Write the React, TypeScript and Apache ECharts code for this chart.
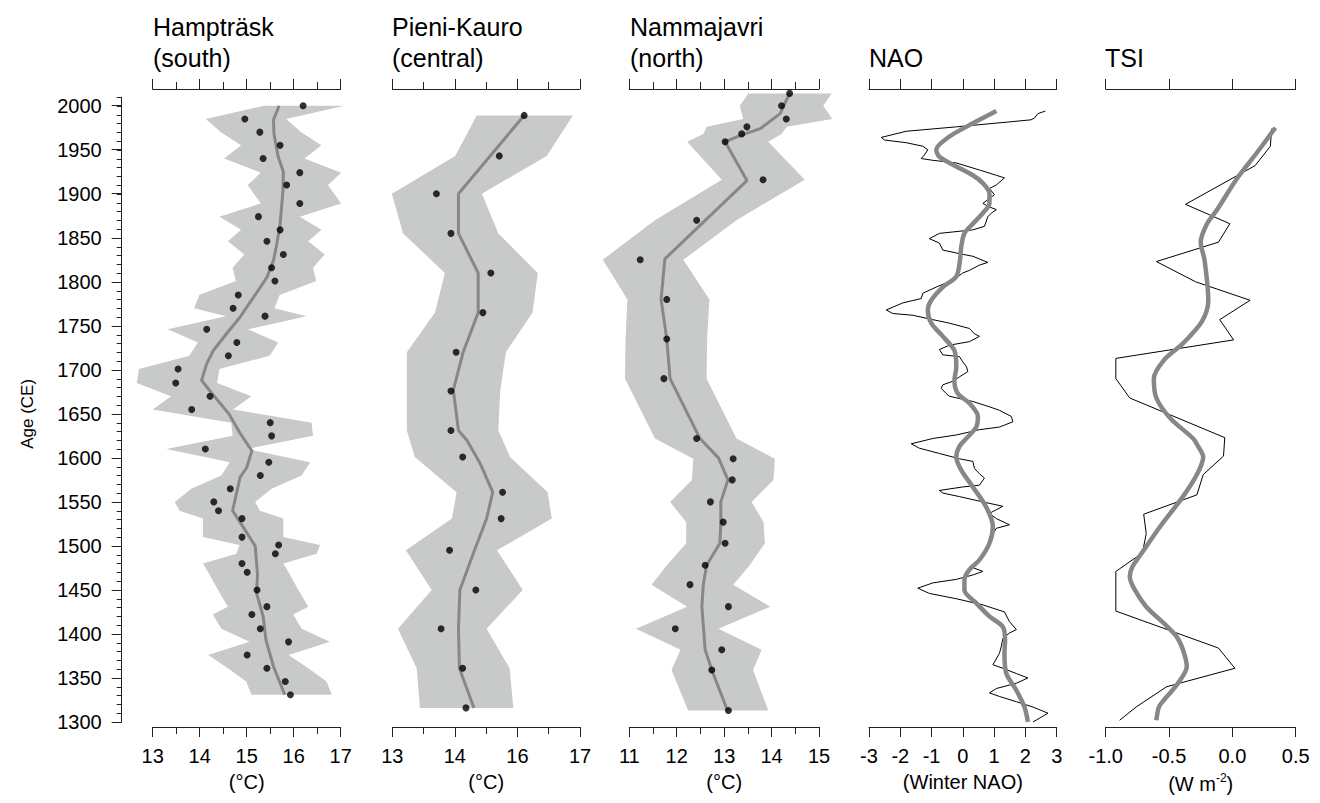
import React, { useEffect, useRef } from 'react';
import * as echarts from 'echarts';

const FONT = '"Liberation Sans", Arial, Helvetica, sans-serif';
const BAND_COLOR = '#c8c9c9';
const LINE_GRAY = '#878787';
const AXIS_COLOR = '#222';

const Y_MIN = 1294.3;
const Y_MAX = 2019;

// ---------- Hampträsk (south) ----------  [year, °C]
const hampDots: [number, number][] = [
  [2000, 16.2], [1985, 14.96], [1970, 15.28], [1955, 15.71], [1940, 15.35],
  [1924, 16.13], [1910, 15.85], [1889, 16.13], [1874, 15.25], [1859, 15.71],
  [1846, 15.43], [1831, 15.78], [1816, 15.53], [1801, 15.6], [1785, 14.82],
  [1770, 14.71], [1761, 15.39], [1746, 14.15], [1731, 14.79], [1716, 14.61],
  [1701, 13.54], [1685, 13.49], [1670, 14.22], [1655, 13.83], [1640, 15.5],
  [1625, 15.53], [1610, 14.12], [1595, 15.47], [1580, 15.29], [1565, 14.65],
  [1550, 14.3], [1540, 14.4], [1531, 14.9], [1510, 14.9], [1501, 15.68],
  [1491, 15.61], [1480, 14.9], [1470, 15.01], [1450, 15.22], [1431, 15.43],
  [1422, 15.11], [1406, 15.29], [1391, 15.89], [1376, 15.01], [1361, 15.43],
  [1346, 15.82], [1331, 15.93],
];
// [year, lower, upper]
const hampBand: [number, number, number][] = [
  [2000, 15.37, 17.08], [1985, 14.13, 15.84], [1970, 14.45, 16.16], [1955, 14.88, 16.59], [1940, 14.52, 16.23],
  [1924, 15.3, 17.01], [1910, 15.02, 16.73], [1889, 15.3, 17.01], [1874, 14.42, 16.13], [1859, 14.88, 16.59],
  [1846, 14.6, 16.31], [1831, 14.95, 16.66], [1816, 14.7, 16.41], [1801, 14.77, 16.48], [1785, 13.99, 15.7],
  [1770, 13.88, 15.59], [1761, 14.56, 16.27], [1746, 13.32, 15.03], [1731, 13.96, 15.67], [1716, 13.78, 15.49],
  [1701, 12.71, 14.42], [1685, 12.66, 14.37], [1670, 13.39, 15.1], [1655, 13.0, 14.71], [1640, 14.67, 16.38],
  [1625, 14.7, 16.41], [1610, 13.29, 15.0], [1595, 14.64, 16.35], [1580, 14.46, 16.17], [1565, 13.82, 15.53],
  [1550, 13.47, 15.18], [1540, 13.57, 15.28], [1531, 14.07, 15.78], [1510, 14.07, 15.78], [1501, 14.85, 16.56],
  [1491, 14.78, 16.49], [1480, 14.07, 15.78], [1470, 14.18, 15.89], [1450, 14.39, 16.1], [1431, 14.6, 16.31],
  [1422, 14.28, 15.99], [1406, 14.46, 16.17], [1391, 15.06, 16.77], [1376, 14.18, 15.89], [1361, 14.6, 16.31],
  [1346, 14.99, 16.7], [1331, 15.1, 16.81],
];
const hampTrend: [number, number][] = [
  [2000, 15.69], [1984, 15.57], [1968, 15.58], [1942, 15.67], [1925, 15.78], [1903, 15.77],
  [1865, 15.71], [1843, 15.64], [1824, 15.57], [1805, 15.43], [1782, 15.14], [1760, 14.86],
  [1741, 14.57], [1722, 14.29], [1707, 14.15], [1688, 14.04], [1676, 14.22], [1650, 14.62],
  [1628, 14.86], [1608, 15.11], [1589, 15.0], [1578, 14.86], [1540, 14.7], [1521, 14.93],
  [1500, 15.18], [1468, 15.23], [1446, 15.21], [1420, 15.35], [1393, 15.41], [1363, 15.57], [1331, 15.81],
];

// ---------- Pieni-Kauro (central) ----------
const pieniDots: [number, number][] = [
  [1989, 15.81], [1943, 15.28], [1900, 13.94], [1855, 14.25], [1810, 15.1], [1765, 14.93],
  [1720, 14.36], [1676, 14.25], [1631, 14.25], [1601, 14.5], [1561, 15.35], [1531, 15.32],
  [1495, 14.22], [1450, 14.78], [1406, 14.04], [1361, 14.5], [1316, 14.57],
];
const pieniBand: [number, number, number][] = [
  [1989, 14.8, 16.85], [1943, 14.34, 16.29], [1900, 12.99, 14.91], [1855, 13.23, 15.26], [1810, 14.12, 16.1],
  [1765, 13.91, 15.99], [1720, 13.31, 15.42], [1676, 13.31, 15.3], [1631, 13.31, 15.26], [1601, 13.48, 15.51],
  [1561, 14.37, 16.31], [1531, 14.27, 16.4], [1495, 13.29, 15.23], [1450, 13.84, 15.78], [1406, 13.12, 15.01],
  [1361, 13.52, 15.5], [1316, 13.59, 15.58],
];
const pieniTrend: [number, number][] = [
  [1989, 15.81], [1900, 14.41], [1855, 14.41], [1810, 14.83], [1765, 14.83], [1720, 14.51],
  [1677, 14.3], [1631, 14.41], [1620, 14.59], [1594, 14.87], [1561, 15.14], [1531, 15.01],
  [1492, 14.73], [1450, 14.44], [1406, 14.41], [1361, 14.43], [1316, 14.74],
];

// ---------- Nammajavri (north) ----------
const nammaDots: [number, number][] = [
  [2014, 14.38], [2000, 14.21], [1985, 14.31], [1976, 13.48], [1968, 13.37], [1959, 13.02],
  [1916, 13.82], [1870, 12.42], [1825, 11.23], [1780, 11.79], [1735, 11.79], [1690, 11.73],
  [1622, 12.42], [1599, 13.19], [1575, 13.17], [1550, 12.71], [1527, 12.98], [1503, 13.02],
  [1478, 12.6], [1456, 12.28], [1431, 13.09], [1406, 11.97], [1382, 12.95], [1359, 12.74], [1313, 13.09],
];
const nammaBand: [number, number, number][] = [
  [2014, 13.51, 15.27], [2000, 13.33, 15.09], [1985, 13.4, 15.28], [1976, 12.63, 14.32], [1968, 12.56, 14.21],
  [1959, 12.22, 13.93], [1916, 12.95, 14.7], [1870, 11.54, 13.26], [1825, 10.44, 12.14], [1780, 10.96, 12.69],
  [1735, 10.92, 12.64], [1690, 10.91, 12.63], [1622, 11.54, 13.26], [1599, 12.35, 14.07], [1575, 12.32, 14.04],
  [1550, 11.86, 13.58], [1527, 12.2, 13.83], [1503, 12.2, 13.86], [1478, 11.79, 13.54], [1456, 11.47, 13.19],
  [1431, 12.22, 13.97], [1406, 11.14, 12.88], [1382, 12.08, 13.79], [1359, 11.89, 13.61], [1313, 12.24, 13.93],
];
const nammaTrend: [number, number][] = [
  [2014, 14.38], [1991, 14.18], [1974, 13.76], [1966, 13.33], [1959, 13.02], [1915, 13.48],
  [1826, 11.75], [1780, 11.67], [1735, 11.79], [1690, 11.86], [1622, 12.49], [1600, 12.88],
  [1575, 13.08], [1550, 12.93], [1527, 12.93], [1503, 12.91], [1478, 12.63], [1456, 12.56],
  [1431, 12.53], [1382, 12.6], [1359, 12.74], [1313, 13.07],
];

// ---------- NAO ----------
const naoRecon: [number, number][] = [
  [1994, 2.64], [1991, 2.4], [1986, 2.29], [1984, 2.18], [1982, 1.6], [1976, -0.21], [1971, -1.81],
  [1964, -2.61], [1961, -2.5], [1958, -1.81], [1954, -1.28], [1950, -1.12], [1944, -1.23], [1940, -1.33],
  [1938, -0.96], [1935, -0.21], [1927, 0.53], [1921, 1.07], [1918, 1.33], [1910, 1.07], [1906, 0.85],
  [1899, 1.01], [1889, 0.64], [1885, 0.85], [1882, 1.07], [1878, 0.91], [1874, 0.8], [1863, 0.69],
  [1859, 0.32], [1855, -0.75], [1849, -1.07], [1844, -0.75], [1836, -0.64], [1832, -0.11], [1829, 0.32],
  [1822, 0.8], [1819, 0.53], [1813, 0.21], [1810, 0.0], [1802, -0.32], [1794, -0.85], [1787, -1.28],
  [1781, -1.33], [1776, -1.92], [1768, -2.45], [1764, -2.24], [1762, -1.6], [1757, -0.96], [1753, -0.43],
  [1747, 0.21], [1741, 0.37], [1738, 0.53], [1732, 0.21], [1728, -0.43], [1723, -0.75], [1717, -0.64],
  [1715, -0.11], [1709, 0.0], [1704, 0.11], [1698, 0.16], [1692, -0.11], [1687, -0.32], [1683, -0.64],
  [1679, -0.69], [1673, -0.53], [1670, -0.43], [1664, 0.32], [1658, 0.85], [1654, 1.17], [1647, 1.55],
  [1641, 1.6], [1635, 1.17], [1632, 0.53], [1626, -0.21], [1622, -0.96], [1616, -1.65], [1611, -1.39],
  [1605, -0.75], [1599, -0.11], [1596, 0.32], [1588, 0.37], [1582, 0.53], [1577, 0.69], [1569, 0.53],
  [1567, 0.0], [1563, -0.75], [1560, -0.64], [1556, -0.11], [1550, 0.64], [1545, 1.28], [1537, 0.85],
  [1531, 1.07], [1524, 1.49], [1520, 1.07], [1514, 0.96], [1501, 0.85], [1495, 0.75], [1480, 0.43],
  [1476, 0.27], [1471, 0.64], [1467, 0.32], [1462, -0.21], [1458, -0.96], [1452, -1.44], [1446, -1.07],
  [1440, -0.21], [1433, 0.64], [1425, 1.33], [1414, 1.49], [1405, 1.71], [1401, 1.49], [1395, 1.28],
  [1386, 1.23], [1378, 1.17], [1365, 0.96], [1361, 1.28], [1355, 1.71], [1350, 2.08], [1344, 1.71],
  [1338, 1.07], [1333, 0.85], [1329, 1.17], [1323, 1.71], [1317, 2.24], [1310, 2.72], [1302, 2.34], [1300, 2.24],
];
const naoSmooth: [number, number][] = [
  [1994, 1.07], [1984, 0.53], [1976, 0.11], [1965, -0.43], [1950, -0.85], [1942, -0.75], [1931, -0.21],
  [1921, 0.32], [1912, 0.64], [1900, 0.85], [1889, 0.85], [1878, 0.64], [1866, 0.32], [1855, 0.05],
  [1840, -0.05], [1825, -0.09], [1806, -0.21], [1794, -0.64], [1779, -1.01], [1768, -1.12], [1753, -1.01],
  [1738, -0.64], [1722, -0.27], [1703, -0.21], [1688, -0.27], [1673, -0.16], [1662, 0.21], [1647, 0.48],
  [1635, 0.43], [1622, 0.11], [1613, -0.11], [1601, -0.21], [1586, -0.05], [1567, 0.32], [1544, 0.75],
  [1522, 0.96], [1503, 0.85], [1484, 0.53], [1473, 0.21], [1461, 0.05], [1450, 0.05], [1435, 0.43],
  [1420, 0.85], [1408, 1.28], [1393, 1.35], [1378, 1.33], [1355, 1.39], [1336, 1.71], [1317, 1.97], [1300, 2.08],
];

// ---------- TSI ----------
const tsiRecon: [number, number][] = [
  [1974, 0.31], [1954, 0.3], [1932, 0.18], [1888, -0.37], [1866, -0.02], [1845, -0.11], [1823, -0.6],
  [1800, -0.29], [1779, 0.14], [1757, -0.1], [1734, 0.01], [1713, -0.92], [1690, -0.92], [1668, -0.81],
  [1623, -0.06], [1602, -0.07], [1581, -0.23], [1558, -0.28], [1536, -0.7], [1514, -0.68], [1492, -0.71],
  [1471, -0.92], [1426, -0.92], [1384, -0.11], [1361, 0.02], [1340, -0.52], [1317, -0.76], [1302, -0.89],
];
const tsiSmooth: [number, number][] = [
  [1975, 0.34], [1946, 0.19], [1916, 0.03], [1882, -0.12], [1866, -0.2], [1845, -0.25], [1825, -0.22],
  [1779, -0.19], [1755, -0.24], [1730, -0.39], [1711, -0.54], [1690, -0.62], [1668, -0.6], [1645, -0.49],
  [1622, -0.31], [1613, -0.27], [1601, -0.23], [1581, -0.28], [1556, -0.39], [1522, -0.57], [1495, -0.7],
  [1476, -0.79], [1465, -0.81], [1450, -0.77], [1431, -0.68], [1412, -0.54], [1397, -0.44], [1382, -0.39],
  [1363, -0.36], [1342, -0.44], [1325, -0.54], [1317, -0.58], [1302, -0.6],
];

// Tick labels
const ageTickStep = 50;
const pieniTickLabels = ['13', '', '14', '', '16', '', '17'];

type Panel = {
  left: number;
  width: number;
  min: number;
  max: number;
  interval: number;
  minor: number;
  unit: string;
  fmt?: (v: number) => string;
  display?: boolean;
  band?: [number, number, number][];
  dots?: [number, number][];
  trend?: [number, number][];
  recon?: [number, number][];
  smooth?: [number, number][];
};

const panels: Panel[] = [
  { left: 152.7, width: 188, min: 13, max: 17, interval: 1, minor: 2, unit: '(°C)', band: hampBand, dots: hampDots, trend: hampTrend },
  { left: 392.3, width: 187.7, min: 13, max: 17, interval: 1, minor: 2, unit: '(°C)', display: true, band: pieniBand, dots: pieniDots, trend: pieniTrend },
  { left: 629.3, width: 189.7, min: 11, max: 15, interval: 1, minor: 2, unit: '(°C)', band: nammaBand, dots: nammaDots, trend: nammaTrend },
  { left: 869, width: 187.7, min: -3, max: 3, interval: 1, minor: 0, unit: '(Winter NAO)', recon: naoRecon, smooth: naoSmooth },
  { left: 1105.7, width: 190, min: -1, max: 0.5, interval: 0.5, minor: 0, unit: '(W m{sup|-2})', fmt: (v) => v.toFixed(1), recon: tsiRecon, smooth: tsiSmooth },
];

const titles = [
  { x: 153, lines: ['Hampträsk', '(south)'] },
  { x: 392, lines: ['Pieni-Kauro', '(central)'] },
  { x: 630, lines: ['Nammajavri', '(north)'] },
  { x: 869, lines: ['', 'NAO'] },
  { x: 1105, lines: ['', 'TSI'] },
];

function buildOption() {
  const grid: any[] = [];
  const xAxis: any[] = [];
  const yAxis: any[] = [];
  const series: any[] = [];
  const lineStyle = { color: AXIS_COLOR, width: 1 };
  const axisLine = { show: true, onZero: false, lineStyle };
  const labelStyle = { fontSize: 20, color: '#000', fontFamily: FONT };

  // Age axis: minor ticks every 10 years
  grid.push({ left: 121.7, top: 97.2, width: 10, height: 624.8 });
  xAxis.push({ gridIndex: 0, type: 'value', show: false, min: 0, max: 1 });
  yAxis.push({
    gridIndex: 0, type: 'value', min: 1300, max: 2010, interval: 10,
    axisLine, axisTick: { show: true, length: 5, lineStyle }, axisLabel: { show: false },
    splitLine: { show: false },
  });
  // Age axis: major ticks and labels
  grid.push({ left: 121.7, top: 105.7, width: 10, height: 616.3 });
  xAxis.push({ gridIndex: 1, type: 'value', show: false, min: 0, max: 1 });
  yAxis.push({
    gridIndex: 1, type: 'value', min: 1300, max: 2000, interval: ageTickStep,
    axisLine: { show: false }, axisTick: { show: true, length: 10, lineStyle },
    axisLabel: { ...labelStyle, margin: 20, formatter: (v: number) => String(v) }, splitLine: { show: false },
    name: 'Age (CE)', nameLocation: 'middle', nameGap: 86,
    nameTextStyle: { fontSize: 17, color: '#000', fontFamily: FONT },
  });

  panels.forEach((p) => {
    const g = grid.length;
    grid.push({ left: p.left, top: 89, width: p.width, height: 638 });
    const yIdx = yAxis.length;
    yAxis.push({ gridIndex: g, type: 'value', min: Y_MIN, max: Y_MAX, show: false });

    const minorTick = p.minor
      ? { show: true, splitNumber: p.minor, length: 7, lineStyle }
      : { show: false };
    const common = {
      gridIndex: g, type: 'value', axisLine,
      axisTick: { show: true, length: 10, lineStyle }, minorTick,
      splitLine: { show: false }, minorSplitLine: { show: false },
    };
    const nameCfg = {
      name: p.unit, nameLocation: 'middle', nameGap: 45,
      nameTextStyle: {
        fontSize: 20, color: '#000', fontFamily: FONT,
        rich: { sup: { fontSize: 12, color: '#000', fontFamily: FONT, padding: [0, 0, 12, 0] } },
      },
    };

    let dataX: number;
    if (p.display) {
      dataX = xAxis.length;
      xAxis.push({ gridIndex: g, type: 'value', show: false, min: p.min, max: p.max });
      const disp = { min: 0, max: pieniTickLabels.length - 1, interval: 2 };
      xAxis.push({
        ...common, ...disp, position: 'bottom',
        axisLabel: { ...labelStyle, margin: 19, formatter: (v: number) => pieniTickLabels[Math.round(v)] ?? '' },
        ...nameCfg,
      });
      xAxis.push({ ...common, ...disp, position: 'top', axisLabel: { show: false } });
    } else {
      dataX = xAxis.length;
      xAxis.push({
        ...common, position: 'bottom', min: p.min, max: p.max, interval: p.interval,
        axisLabel: { ...labelStyle, margin: 19, formatter: p.fmt ? p.fmt : (v: number) => String(v) },
        ...nameCfg,
      });
      xAxis.push({ ...common, position: 'top', min: p.min, max: p.max, interval: p.interval, axisLabel: { show: false } });
    }

    if (p.band) {
      const band = p.band;
      series.push({
        type: 'custom', xAxisIndex: dataX, yAxisIndex: yIdx, clip: false, silent: true, z: 1,
        data: [[(p.min + p.max) / 2, 1650]],
        renderItem: (_params: any, api: any) => {
          const pts: number[][] = [];
          band.forEach(([yr, , hi]) => pts.push(api.coord([hi, yr])));
          for (let i = band.length - 1; i >= 0; i--) pts.push(api.coord([band[i][1], band[i][0]]));
          return { type: 'polygon', shape: { points: pts }, style: { fill: BAND_COLOR, stroke: null } };
        },
      });
    }
    if (p.recon) {
      series.push({
        type: 'line', xAxisIndex: dataX, yAxisIndex: yIdx, z: 2, silent: true,
        data: p.recon.map(([yr, v]) => [v, yr]), symbol: 'none', showSymbol: false,
        lineStyle: { color: '#000', width: 1 },
      });
    }
    if (p.trend) {
      series.push({
        type: 'line', xAxisIndex: dataX, yAxisIndex: yIdx, z: 3, silent: true,
        data: p.trend.map(([yr, v]) => [v, yr]), symbol: 'none', showSymbol: false,
        lineStyle: { color: LINE_GRAY, width: 3 },
      });
    }
    if (p.smooth) {
      series.push({
        type: 'line', xAxisIndex: dataX, yAxisIndex: yIdx, z: 3, silent: true,
        data: p.smooth.map(([yr, v]) => [v, yr]), symbol: 'none', showSymbol: false, smooth: 0.3,
        lineStyle: { color: LINE_GRAY, width: 4.5 },
      });
    }
    if (p.dots) {
      series.push({
        type: 'scatter', xAxisIndex: dataX, yAxisIndex: yIdx, z: 4, silent: true,
        data: p.dots.map(([yr, v]) => [v, yr]), symbol: 'circle', symbolSize: 7,
        itemStyle: { color: '#000' },
      });
    }
  });

  const graphic: any[] = [];
  titles.forEach((t) => {
    t.lines.forEach((line, i) => {
      if (!line) return;
      graphic.push({
        type: 'text', x: t.x, y: i === 0 ? 27 : 58, silent: true,
        style: {
          text: line, fill: '#000', font: `25px ${FONT}`,
          textAlign: 'left', textVerticalAlign: 'middle', align: 'left', verticalAlign: 'middle',
        },
      });
    });
  });

  return {
    animation: false,
    backgroundColor: '#fff',
    textStyle: { fontFamily: FONT },
    grid, xAxis, yAxis, series, graphic,
  };
}

export default function App() {
  const ref = useRef<HTMLDivElement>(null);
  useEffect(() => {
    document.body.style.margin = '0';
    const chart = echarts.init(ref.current as HTMLDivElement, null, { renderer: 'svg' });
    chart.setOption(buildOption() as any);
    return () => chart.dispose();
  }, []);
  return <div ref={ref} style={{ width: 1320, height: 803 }} />;
}
